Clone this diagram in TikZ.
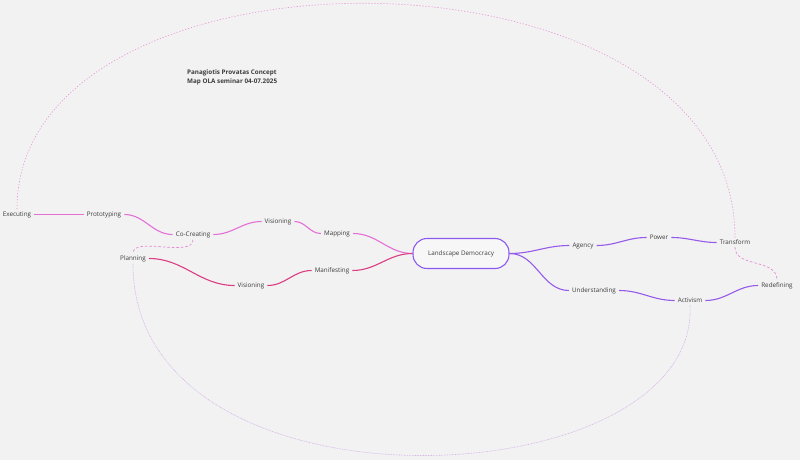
\documentclass[tikz,border=0pt]{standalone}
\usepackage{fontspec}
\setmainfont{Open Sans}
\definecolor{bg}{RGB}{242,242,242}
\definecolor{txt}{RGB}{60,60,60}
\definecolor{pinkA}{RGB}{228,112,214}
\definecolor{pinkB}{RGB}{220,60,130}
\definecolor{purp}{RGB}{150,90,235}
\definecolor{ldborder}{RGB}{140,90,240}
\definecolor{pinkdot}{RGB}{230,145,212}
\definecolor{lavdot}{RGB}{212,178,232}
\begin{document}
\begin{tikzpicture}[x=1pt,y=-1pt,
  lbl/.style={font=\fontsize{6.3}{8}\selectfont, text=txt, inner xsep=3pt, inner ysep=2pt},
  edgepink/.style={draw=pinkA, line width=1.1pt},
  edgered/.style={draw=pinkB, line width=1.1pt},
  edgepurp/.style={draw=purp, line width=1.1pt},
  dotpink/.style={draw=pinkdot, line width=0.6pt, dash pattern=on 1.2pt off 1.8pt},
  dashpink/.style={draw=pinkdot!80!pinkA, line width=0.7pt, dash pattern=on 2.5pt off 2pt},
  dotlav/.style={draw=lavdot, line width=0.6pt, dash pattern=on 0.8pt off 0.8pt}]
\fill[bg] (0,0) rectangle (800,460);
\useasboundingbox (0,0) rectangle (800,460);

\node[lbl] (exec) at (17,214.5) {Executing};
\node[lbl] (proto) at (104,214.5) {Prototyping};
\node[lbl] (cocr) at (193,234.5) {Co-Creating};
\node[lbl] (plan) at (133,258.5) {Planning};
\node[lbl] (vislo) at (251,285.5) {Visioning};
\node[lbl] (visup) at (278,221.5) {Visioning};
\node[lbl] (map) at (337,233.5) {Mapping};
\node[lbl] (man) at (332,270.5) {Manifesting};
\node[lbl, draw=ldborder, line width=1.1pt, fill=bg!60!white, rounded corners=14pt,
  minimum width=96pt, minimum height=30pt] (ld) at (461,253.5) {Landscape Democracy};
\node[lbl] (agen) at (583,245.5) {Agency};
\node[lbl] (pow) at (659,237.5) {Power};
\node[lbl] (trans) at (735,242.5) {Transform};
\node[lbl] (und) at (594,290.5) {Understanding};
\node[lbl] (act) at (690,300.5) {Activism};
\node[lbl] (redef) at (777,285.5) {Redefining};

\node[font=\bfseries\fontsize{6.3}{9}\selectfont, text=txt, align=left, anchor=north west, inner sep=0pt]
  (title) at (187,70) {Panagiotis Provatas Concept\\Map OLA seminar 04-07.2025};

% solid branches
\draw[edgepink] (exec.east) -- (proto.west);
\draw[edgepink] (proto.east) to[out=0,in=180] (cocr.west);
\draw[edgepink] (cocr.east) to[out=0,in=180] (visup.west);
\draw[edgepink] (visup.east) to[out=0,in=180] (map.west);
\draw[edgepink] (map.east) to[out=0,in=180] (ld.west);
\draw[edgered] (ld.west) to[out=180,in=0] (man.east);
\draw[edgered] (man.west) to[out=180,in=0] (vislo.east);
\draw[edgered] (vislo.west) to[out=180,in=0] (plan.east);
\draw[edgepurp] (ld.east) to[out=0,in=180] (agen.west);
\draw[edgepurp] (agen.east) to[out=0,in=180] (pow.west);
\draw[edgepurp] (pow.east) to[out=0,in=180] (trans.west);
\draw[edgepurp] (ld.east) to[out=0,in=180] (und.west);
\draw[edgepurp] (und.east) to[out=0,in=180] (act.west);
\draw[edgepurp] (act.east) to[out=0,in=180] (redef.west);

% cross links
\draw[dotpink] (exec.north) .. controls (17,-70) and (735,-70) .. (trans.north);
\draw[dashpink] (trans.south) .. controls (735,268) and (777,258) .. (redef.north);
\draw[dashpink] (cocr.south) .. controls (193,258) and (133,236) .. (plan.north);
\draw[dotlav] (plan.south) .. controls (133,525) and (700,500) .. (act.south);
\end{tikzpicture}
\end{document}
